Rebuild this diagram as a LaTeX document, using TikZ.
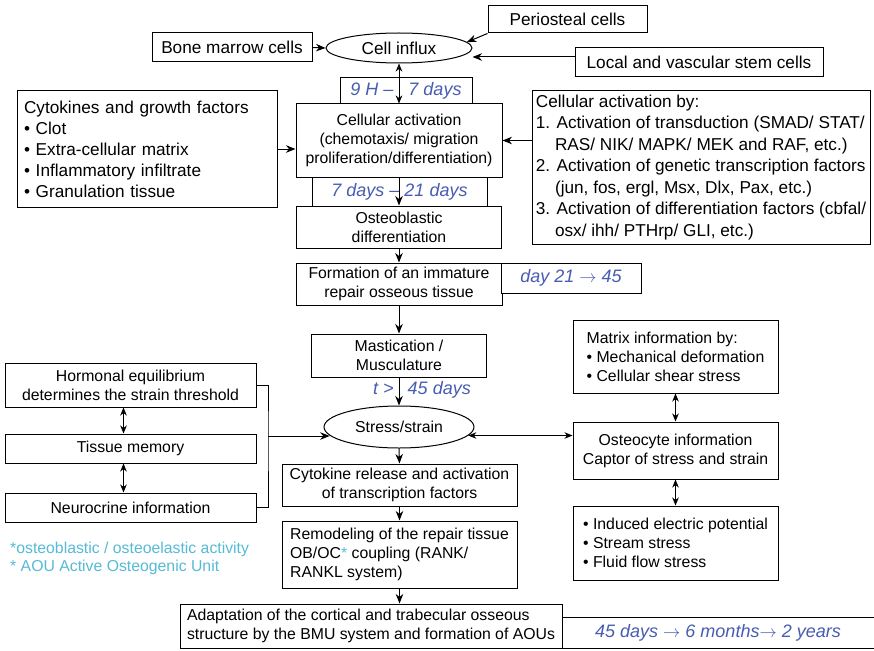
\documentclass[tikz,border=0pt]{standalone}
\usepackage{fontspec}
\setmainfont{Liberation Sans}
\usepackage{xcolor}
\usepackage{tikz}
\usetikzlibrary{shapes.geometric, arrows.meta, positioning, calc}

\definecolor{timeblue}{RGB}{72,92,178}
\definecolor{notecyan}{RGB}{86,186,214}

\begin{document}
\begin{tikzpicture}[
    x=1pt, y=-1pt,
    box/.style={draw, line width=1pt, inner sep=3pt, align=center, font=\fontsize{15.8}{19}\selectfont},
    bigbox/.style={box, font=\fontsize{17.2}{21}\selectfont},
    listbox/.style={box, align=left},
    oval/.style={draw, ellipse, line width=1pt, inner sep=0pt},
    timebox/.style={draw, fill=white, line width=1pt, inner sep=2pt, text=timeblue, font=\fontsize{18}{21}\selectfont\itshape},
    timelabel/.style={text=timeblue, inner sep=0pt, font=\fontsize{18}{21}\selectfont\itshape},
    note/.style={anchor=west, inner sep=0pt, text=notecyan, font=\fontsize{15.8}{19}\selectfont},
    line/.style={line width=1pt},
    arrow/.style={-{Stealth[length=9.5pt, width=7.5pt, inset=3pt]}, line width=1pt},
    dblarrow/.style={{Stealth[length=8pt, width=6.5pt, inset=2.5pt]}-{Stealth[length=8pt, width=6.5pt, inset=2.5pt]}, line width=1pt}
]
\useasboundingbox (0,0) rectangle (874,650);

% Cell sources
\node[bigbox, minimum width=159, minimum height=27] (periost) at (567.5,19.5) {Periosteal cells};
\node[bigbox, minimum width=160, minimum height=29] (marrow) at (232,47.5) {Bone marrow cells};
\node[oval, bigbox, ellipse, minimum width=146, minimum height=30] (influx) at (399,48) {Cell influx};
\node[bigbox, minimum width=248, minimum height=29] (localstem) at (699,62.5) {Local and vascular stem cells};

% Activation stage
\node[timebox, minimum width=132, minimum height=26] (tA) at (406,91) {9 H --\hspace{15pt}7 days};
\node[box, minimum width=206, minimum height=73] (cellact) at (399,140.5) {Cellular activation\\(chemotaxis/ migration\\proliferation/differentiation)};
\node[listbox, font=\fontsize{17.2}{21}\selectfont, text width=246, inner xsep=7pt, minimum height=117] (cytok) at (147,149) {Cytokines and growth factors\\\textbullet{} Clot\\\textbullet{} Extra-cellular matrix\\\textbullet{} Inflammatory infiltrate\\\textbullet{} Granulation tissue};
\node[listbox, font=\fontsize{17.2}{21.5}\selectfont, minimum width=338, minimum height=153] (actby) at (701,167.5) {Cellular activation by:\\1. Activation of transduction (SMAD/ STAT/\\\hphantom{1.}\ RAS/ NIK/ MAPK/ MEK and RAF, etc.)\\2. Activation of genetic transcription factors\\\hphantom{2.}\ (jun, fos, ergl, Msx, Dlx, Pax, etc.)\\3. Activation of differentiation factors (cbfal/\\\hphantom{3.}\ osx/ ihh/ PTHrp/ GLI, etc.)};

% Repair tissue
\node[timebox, minimum width=175, minimum height=29] (tB) at (399.5,191.5) {7 days -- 21 days};
\node[box, minimum width=205, minimum height=42] (osteobl) at (399,227) {Osteoblastic\\differentiation};
\node[box, minimum width=206, minimum height=42] (immature) at (399,284) {Formation of an immature\\repair osseous tissue};
\node[timebox, minimum width=140, minimum height=30] (tC) at (571,278) {day 21 $\rightarrow$ 45};
\node[box, minimum width=175, minimum height=43] (mastic) at (399,355.5) {Mastication /\\Musculature};
\node[timelabel] (tD) at (422,390) {t >\hspace{14pt}45 days};

% Mechanical loading
\node[oval, box, ellipse, minimum width=150, minimum height=42] (stress) at (399,427) {Stress/strain};
\node[box, minimum width=251, minimum height=44] (hormon) at (130.5,385) {Hormonal equilibrium\\determines the strain threshold};
\node[box, minimum width=251, minimum height=29] (memory) at (130.5,448.5) {Tissue memory};
\node[box, minimum width=251, minimum height=29] (neuro) at (130.5,507.5) {Neurocrine information};
\node[listbox, minimum width=205, minimum height=73] (matrix) at (675.5,356.5) {Matrix information by:\\\textbullet{} Mechanical deformation\\\textbullet{} Cellular shear stress};
\node[box, minimum width=205, minimum height=57] (osteo) at (675.5,450.5) {Osteocyte information\\Captor of stress and strain};
\node[listbox, minimum width=205, minimum height=74] (stimuli) at (675.5,543) {\textbullet{} Induced electric potential\\\textbullet{} Stream stress\\\textbullet{} Fluid flow stress};

% Remodeling
\node[box, minimum width=235, minimum height=42] (cytorel) at (399.5,485) {Cytokine release and activation\\of transcription factors};
\node[listbox, minimum width=235, minimum height=67] (remodel) at (399.5,554.5) {Remodeling of the repair tissue\\OB/OC\textcolor{notecyan}{*} coupling (RANK/\\RANKL system)};
\node[listbox, minimum width=382, minimum height=44] (adapt) at (371,626) {Adaptation of the cortical and trabecular osseous\\structure by the BMU system and formation of AOUs};
\node[timebox, minimum width=312, minimum height=31] (tE) at (718,632.5) {45 days $\rightarrow$ 6 months$\rightarrow$ 2 years};

% Footnotes
\node[note] (noteA) at (10,549) {*osteoblastic / osteoelastic activity};
\node[note] (noteB) at (10,567) {* AOU Active Osteogenic Unit};

% Connectors
\draw[arrow] (marrow.east) -- (influx.west);
\draw[arrow] (periost.south west) -- (influx.5);
\draw[arrow] ([yshift=5.5pt]localstem.west) -- ([yshift=5.5pt]localstem.west -| influx.east);
\draw[dblarrow] (influx.south) -- (cellact.north);
\draw[arrow] (cytok.east) -- (cytok.east -| cellact.west);
\draw[arrow] (cellact.east -| actby.west) -- (cellact.east);
\draw[arrow] (cellact.south) -- (osteobl.north);
\draw[arrow] (osteobl.south) -- (immature.north);
\draw[arrow] (immature.south) -- (mastic.north);
\draw[arrow] (mastic.south) -- (stress.north);

\coordinate (bar) at (268,436);
\draw[line] (hormon.east) -| (bar) |- (neuro.east);
\draw[arrow] (bar) -- (bar -| stress.187);
\draw[dblarrow] ([xshift=-7pt]hormon.south) -- ([xshift=-7pt]memory.north);
\draw[dblarrow] ([xshift=-7pt]memory.south) -- ([xshift=-7pt]neuro.north);

\draw[dblarrow] (stress.353) -- (stress.353 -| osteo.west);
\draw[dblarrow] (matrix.south) -- (osteo.north);
\draw[dblarrow] (osteo.south) -- (stimuli.north);

\draw[arrow] (stress.south) -- (cytorel.north);
\draw[arrow] (cytorel.south) -- (remodel.north);
\draw[arrow] (remodel.south) -- (remodel.south |- adapt.north);

\end{tikzpicture}
\end{document}
